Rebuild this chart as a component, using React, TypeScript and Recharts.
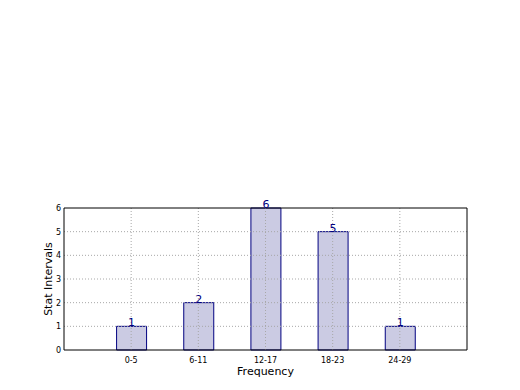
import { BarChart, Bar, XAxis, YAxis, ReferenceLine, LabelList } from "recharts";

const categories = ["0-5", "6-11", "12-17", "18-23", "24-29"];
const counts = [1, 2, 6, 5, 1];
const yTicks = [0, 1, 2, 3, 4, 5, 6];

const data = categories.map((c, i) => ({ x: i, name: c, count: counts[i] }));

const FONT = "DejaVu Sans, sans-serif";
const GRID = "#a8a8a8";

export default function App() {
  return (
    <div style={{ width: 520, height: 390, background: "#fff", fontFamily: FONT }}>
      <style>{"body{margin:0}"}</style>
      <BarChart
        width={520}
        height={390}
        data={data}
        margin={{ top: 208, right: 53, left: 0, bottom: 0 }}
      >
        <XAxis
          dataKey="x"
          type="number"
          domain={[-1, 5]}
          ticks={[0, 1, 2, 3, 4]}
          tickFormatter={(v: number) => categories[v] ?? ""}
          height={40}
          axisLine={false}
          tickLine={false}
          tickMargin={1}
          tick={{ fill: "#000", fontSize: 8, fontFamily: FONT }}
          label={{ value: "Frequency", position: "insideBottom", offset: 15, fill: "#000", fontSize: 11, fontFamily: FONT }}
        />
        <YAxis
          type="number"
          domain={[0, 6]}
          ticks={yTicks}
          width={64}
          axisLine={false}
          tickLine={false}
          tickSize={2}
          tickMargin={1}
          tick={{ fill: "#000", fontSize: 8, fontFamily: FONT }}
          label={{ value: "Stat Intervals", angle: -90, position: "insideLeft", offset: 48, style: { textAnchor: "middle" }, fill: "#000", fontSize: 11, fontFamily: FONT }}
        />
        <Bar dataKey="count" barSize={30} fill="#cbcbe3" stroke="#000080" strokeWidth={1} isAnimationActive={false}>
          <LabelList dataKey="count" position="top" offset={0} fill="#000080" fontSize={11} fontFamily={FONT} />
        </Bar>
        {[1, 2, 3, 4, 5].map((v) => (
          <ReferenceLine key={`h${v}`} y={v} stroke={GRID} strokeDasharray="1 2" />
        ))}
        {[0, 1, 2, 3, 4].map((v) => (
          <ReferenceLine key={`v${v}`} x={v} stroke={GRID} strokeDasharray="1 2" />
        ))}
        <ReferenceLine y={0} stroke="#000" />
        <ReferenceLine y={6} stroke="#000" />
        <ReferenceLine x={-1} stroke="#000" />
        <ReferenceLine x={5} stroke="#000" />
      </BarChart>
    </div>
  );
}
